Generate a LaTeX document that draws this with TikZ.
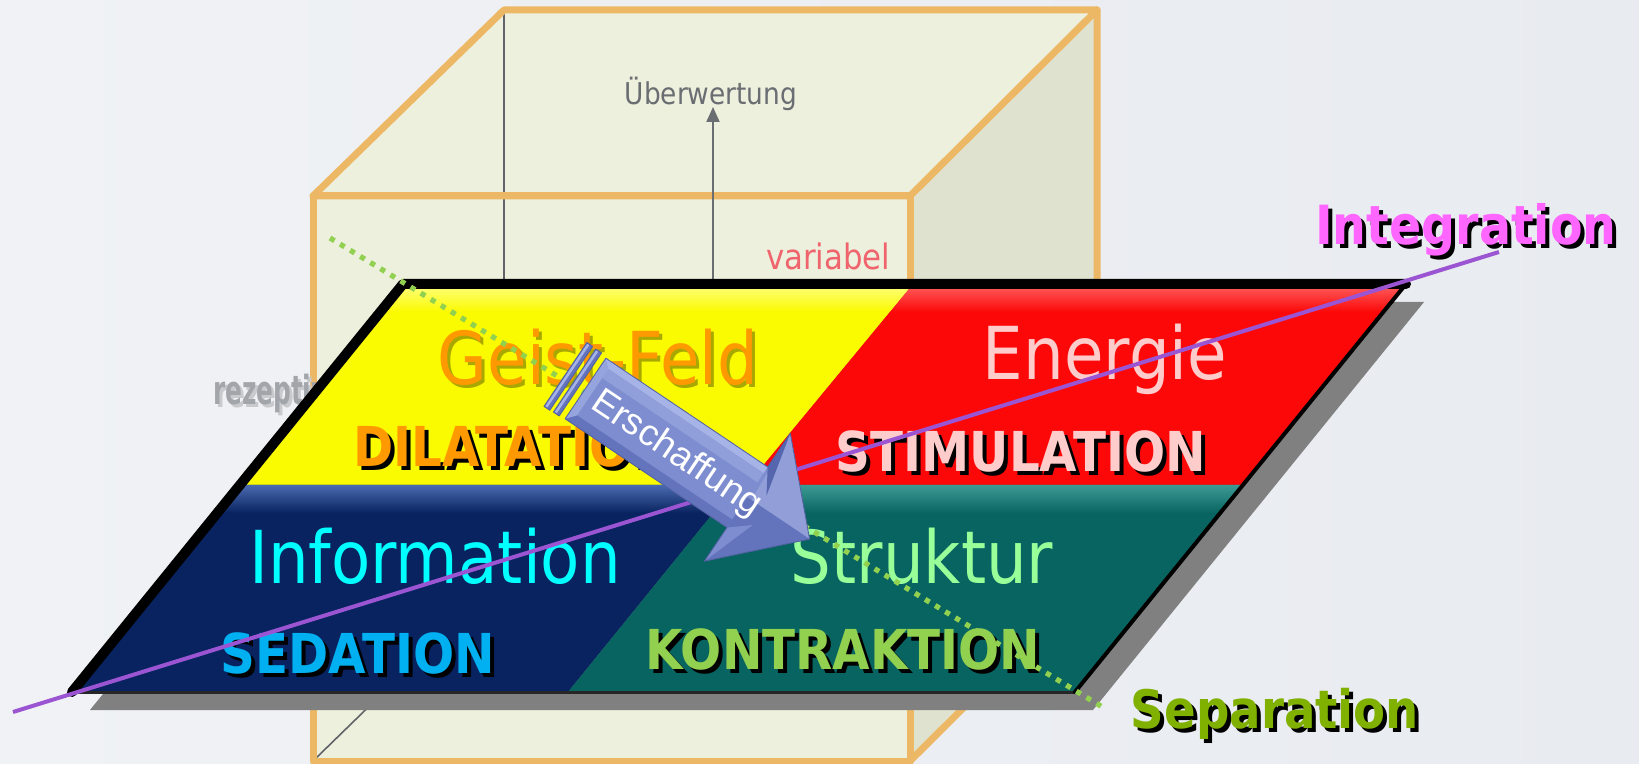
\documentclass[tikz,border=0pt]{standalone}
\usepackage{fontspec}
\newfontfamily\tah[FakeStretch=0.88]{DejaVu Sans}
\newfontfamily\dvs{DejaVu Sans}
\newfontfamily\ari{Liberation Sans}
\usetikzlibrary{arrows.meta}
\definecolor{bgL}{HTML}{F0F2F5}
\definecolor{bgR}{HTML}{E8EBF0}
\definecolor{cubeTop}{HTML}{EDF0DC}
\definecolor{cubeSide}{HTML}{E0E2D0}
\definecolor{cubeEdge}{HTML}{EDB866}
\definecolor{hidden}{HTML}{606468}
\definecolor{yelq}{HTML}{FAFA00}
\definecolor{yelHi}{HTML}{FFFF80}
\definecolor{redq}{HTML}{FC0808}
\definecolor{redHi}{HTML}{FF6060}
\definecolor{navyq}{HTML}{08235F}
\definecolor{navyHi}{HTML}{4A6AB0}
\definecolor{tealq}{HTML}{086460}
\definecolor{tealHi}{HTML}{3C9A94}
\definecolor{shadowc}{HTML}{808080}
\definecolor{geistc}{HTML}{FF9900}
\definecolor{geistSh}{HTML}{A8A800}
\definecolor{pinkc}{HTML}{FFCCCC}
\definecolor{cyanc}{HTML}{00FFFF}
\definecolor{sedc}{HTML}{00B0F0}
\definecolor{strukc}{HTML}{99FF99}
\definecolor{konc}{HTML}{92D050}
\definecolor{integc}{HTML}{FF66FF}
\definecolor{sepc}{HTML}{80B000}
\definecolor{uberc}{HTML}{6A6D72}
\definecolor{varc}{HTML}{F0646E}
\definecolor{rezc}{HTML}{A2A5AA}
\definecolor{rezSh}{HTML}{C8CACE}
\definecolor{purplec}{HTML}{9B55D2}
\definecolor{dotc}{HTML}{92D050}
\definecolor{arMain}{HTML}{7D8DD0}
\definecolor{arLight}{HTML}{A6B3E6}
\definecolor{arDark}{HTML}{6373BC}
\definecolor{arDeep}{HTML}{5565AE}
\definecolor{arEdge}{HTML}{5060A0}
\begin{document}
\begin{tikzpicture}[x=0.5pt,y=-0.5pt,
  txt/.style={inner sep=0pt,outer sep=0pt,anchor=base},
  bigtext/.style={txt,font=\tah\fontsize{36.5}{40}\selectfont},
  boldlab/.style={txt,font=\tah\bfseries\fontsize{27.5}{30}\selectfont},
  cubeedge/.style={draw=cubeEdge,line width=3.5pt,line join=round,line cap=round},
  hiddenedge/.style={draw=hidden,line width=0.8pt},
  arrowpart/.style={draw=arEdge,line width=0.4pt,line join=round},
]
\useasboundingbox (0,0) rectangle (1639,764);
\shade[left color=bgL,right color=bgR] (0,0) rectangle (1639,764);

% ---------- cube ----------
\coordinate (cFTL) at (313,196);
\coordinate (cFTR) at (910,196);
\coordinate (cFBR) at (910,761);
\coordinate (cFBL) at (313,761);
\coordinate (cBTL) at (504,10);
\coordinate (cBTR) at (1097,10);
\coordinate (cBBR) at (1097,575);
\coordinate (cBBL) at (504,575);
\fill[cubeTop] (cFTL)--(cBTL)--(cBTR)--(cFTR)--cycle;
\fill[cubeSide] (cFTR)--(cBTR)--(cBBR)--(cFBR)--cycle;
\fill[cubeTop] (cFTL) rectangle (cFBR);
\draw[hiddenedge] (cBTL)--(cBBL)--(cFBL);
\draw[cubeedge] (cFTL)--(cBTL)--(cBTR)--(cFTR)--cycle;
\draw[cubeedge] (cBTR)--(cBBR)--(cFBR);
\draw[cubeedge] (cFTL) rectangle (cFBR);

% ---------- texts on cube ----------
\node[txt,font=\tah\fontsize{15}{18}\selectfont,text=uberc] (ubtxt) at (711,105) {Überwertung};
\coordinate (ub0) at (713,284);
\coordinate (ub1) at (713,107);
\draw[draw=uberc,line width=1pt,-{Triangle[length=7.5pt,width=6.5pt]}] (ub0) -- (ub1);
\node[txt,anchor=base west,font=\tah\fontsize{17.5}{20}\selectfont,text=varc] (vartxt) at (766,270) {variabel};
\node[txt,anchor=base west,text=rezSh] (rezsh) at (216,408) {\dvs\bfseries\fontsize{20}{24}\selectfont\scalebox{0.62}[1]{rezeptiv}};
\node[txt,anchor=base west,text=rezc] (reztxt) at (213,405) {\dvs\bfseries\fontsize{20}{24}\selectfont\scalebox{0.62}[1]{rezeptiv}};

% ---------- plane ----------
\fill[shadowc] (421,302)--(1424,302)--(1093,710)--(90,710)--cycle;
\fill[yelq] (403,284)--(913,284)--(747,485)--(240,485)--cycle;
\fill[redq] (913,284)--(1406,284)--(1243,485)--(747,485)--cycle;
\fill[navyq] (240,485)--(736,485)--(568,692)--(72,692)--cycle;
\fill[tealq] (736,485)--(1243,485)--(1075,692)--(568,692)--cycle;
\shade[top color=yelHi,bottom color=yelq] (403,284)--(913,284)--(890,312)--(380,312)--cycle;
\shade[top color=redHi,bottom color=redq] (913,284)--(1406,284)--(1383,312)--(890,312)--cycle;
\shade[top color=navyHi,bottom color=navyq] (240,485)--(736,485)--(713,513)--(217,513)--cycle;
\shade[top color=tealHi,bottom color=tealq] (736,485)--(1243,485)--(1220,513)--(713,513)--cycle;
\draw[black!85,line width=1.5pt] (72,692) -- (1075,692);
\draw[black,line width=2pt,line cap=round] (1406,284) -- (1075,692);
\draw[black,line width=5pt,line cap=round,line join=round] (72,692) -- (403,284) -- (1406,284);

% ---------- quadrant texts ----------
\node[bigtext,text=geistSh] (geistsh) at (601,388) {Geist-Feld};
\node[bigtext,text=geistc] (geist) at (598,385) {Geist-Feld};
\node[bigtext,text=pinkc] (energie) at (1105,380) {Energie};
\node[bigtext,text=cyanc] (info) at (435,583) {Information};
\node[bigtext,text=strukc] (struk) at (922,583) {Struktur};

\node[boldlab,anchor=base west,text=black] (dilsh) at (357,471) {DILATATION};
\node[boldlab,anchor=base west,text=geistc] (dil) at (353,467) {DILATATION};
\node[boldlab,text=black] (stimsh) at (1025,476) {STIMULATION};
\node[boldlab,text=pinkc] (stim) at (1021,472) {STIMULATION};
\node[boldlab,text=black] (sedsh) at (362,677) {SEDATION};
\node[boldlab,text=sedc] (sed) at (358,673) {SEDATION};
\node[boldlab,text=black] (konsh) at (847,673) {KONTRAKTION};
\node[boldlab,text=konc] (kon) at (843,669) {KONTRAKTION};

% ---------- axes ----------
\coordinate (intA) at (13,712);
\coordinate (intB) at (1499,252);
\coordinate (sepA) at (330,238);
\coordinate (sepB) at (1104,708);
\draw[purplec,line width=2pt] (intA) -- (intB);
\draw[dotc,line width=2.6pt,dash pattern=on 2.6pt off 3.3pt] (sepA) -- (sepB);

% ---------- Erschaffung arrow ----------
\begin{scope}[shift={(585.5,388.5)},rotate=-33.9]
  \filldraw[arrowpart,fill=arDark] (-24.5,-39)--(-17.5,-39)--(-17.5,38)--(-24.5,38)--cycle;
  \fill[arLight] (-23.5,-38)--(-21,-38)--(-21,37)--(-23.5,37)--cycle;
  \filldraw[arrowpart,fill=arDark] (-13.5,-38.5)--(-6.5,-38.5)--(-6.5,37.5)--(-13.5,37.5)--cycle;
  \fill[arLight] (-12.5,-37.5)--(-10,-37.5)--(-10,36.5)--(-12.5,36.5)--cycle;
  \fill[arMain] (0,-36.5)--(195,-36.5)--(195,-77)--(270,0)--(195,77)--(195,36.5)--(0,36.5)--cycle;
  \fill[arLight] (0,-36.5)--(195,-36.5)--(195,-29)--(0,-29)--cycle;
  \fill[arLight!45!arMain] (0,-29)--(195,-29)--(195,-18)--(0,-18)--cycle;
  \fill[arDark] (0,27)--(195,27)--(195,36.5)--(0,36.5)--cycle;
  \fill[arLight!60!arMain] (0,-36.5)--(8,-29)--(8,27)--(0,36.5)--cycle;
  \fill[arMain!85!white] (195,-77)--(270,0)--(200,0)--cycle;
  \fill[arDark] (195,0)--(270,0)--(195,77)--cycle;
  \fill[arDeep] (195,-77)--(195,-36.5)--(210,-12)--cycle;
  \fill[arMain] (195,77)--(195,36.5)--(215,20)--cycle;
  \draw[arrowpart] (0,-36.5)--(195,-36.5)--(195,-77)--(270,0)--(195,77)--(195,36.5)--(0,36.5)--cycle;
  \node[rotate=-33.9,inner sep=0pt,text=white,font=\ari\fontsize{18.5}{20}\selectfont] (ersch) at (112,4) {Erschaffung};
\end{scope}

% ---------- axis labels ----------
\node[txt,font=\tah\bfseries\fontsize{27}{30}\selectfont,text=black] (integsh) at (1470,249) {Integration};
\node[txt,font=\tah\bfseries\fontsize{27}{30}\selectfont,text=integc] (integ) at (1466,245) {Integration};
\node[txt,font=\tah\bfseries\fontsize{26.5}{30}\selectfont,text=black] (sepsh) at (1279,732) {Separation};
\node[txt,font=\tah\bfseries\fontsize{26.5}{30}\selectfont,text=sepc] (sep) at (1275,728) {Separation};
\end{tikzpicture}
\end{document}
